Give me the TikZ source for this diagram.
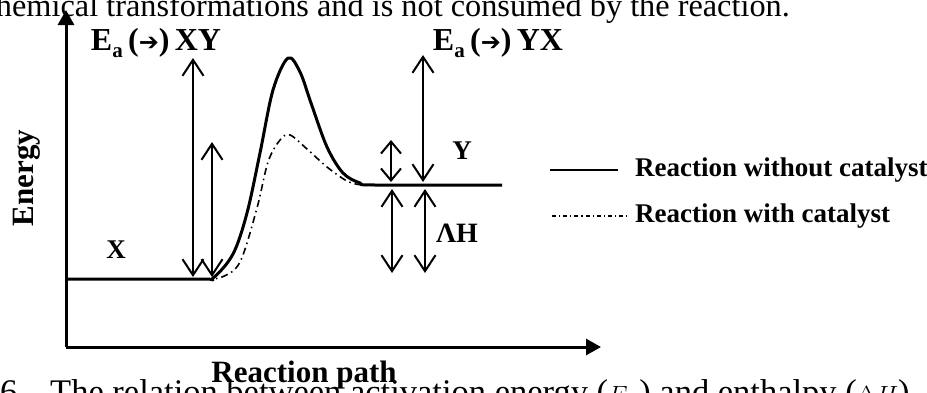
\documentclass[tikz,border=0pt]{standalone}
\usepackage{fontspec}
\setmainfont{Liberation Serif}
\newfontfamily\symfont{DejaVu Sans}
\usetikzlibrary{arrows.meta}
\tikzset{
  lbl/.style={font=\fontsize{27}{30}\selectfont\bfseries, inner sep=0pt},
  ealbl/.style={font=\fontsize{32}{34}\selectfont\bfseries, inner sep=0pt},
  biglbl/.style={font=\fontsize{31}{34}\selectfont\bfseries, inner sep=0pt},
  body/.style={font=\fontsize{32.3}{36}\selectfont, inner sep=0pt},
  axis/.style={line width=3pt, -{Triangle[length=15pt,width=16pt]}},
  dbl/.style={line width=2pt, {Straight Barb[length=16pt,width=21pt,line width=2pt]}-{Straight Barb[length=16pt,width=21pt,line width=2pt]}},
  sdbl/.style={line width=2pt, {Straight Barb[length=12pt,width=20pt,line width=2pt]}-{Straight Barb[length=12pt,width=20pt,line width=2pt]}},
  nocat/.style={line width=3pt, line join=round},
  cat/.style={line width=1.6pt, dash pattern=on 7pt off 4pt on 1.5pt off 4pt},
}
\newcommand{\Ealabel}[1]{E\raisebox{-0.22em}{\fontsize{21}{21}\selectfont a}\,({\symfont\fontsize{24}{24}\selectfont ➔})\,#1}
\begin{document}
\begin{tikzpicture}[x=1pt,y=-1pt]
\useasboundingbox (0,0) rectangle (927,392);
% page text fragments
\node[body, anchor=base east] (toptext) at (790,16) {chemical transformations and is not consumed by the reaction.};
\node[body, font=\fontsize{34.5}{36}\selectfont, anchor=base west] (num) at (0,403) {6.};
\node[body, font=\fontsize{34.5}{36}\selectfont, anchor=base west] (bottext) at (50,403) {The relation between activation energy ($E_a$) and enthalpy ($\Delta H$)};
% axes
\coordinate (O) at (66,347);
\coordinate (ytop) at (66,10);
\coordinate (xend) at (601,347);
\draw[axis] (O) -- (ytop);
\draw[axis] (O) -- (xend);
\node[biglbl, rotate=90] (energy) at (27,178) {Energy};
\node[biglbl, anchor=base] (rpath) at (304,382) {Reaction path};
% curves
\draw[cat] plot[smooth, tension=0.55] coordinates {(205,279) (222,277) (240,262) (257,208) (268,162) (280,140) (290,135) (307,149) (327,167) (347,181) (362,185) (380,185)};
\draw[nocat] plot[smooth, tension=0.55] coordinates {(66,279) (200,279) (213,278) (233,254) (247,213) (260,153) (273,90) (288,58) (300,72) (311,103) (327,147) (343,173) (360,183) (375,185) (502,185)};
% labels
\node[lbl] (X) at (116,250) {X};
\node[lbl] (Y) at (462,151) {Y};
\node[lbl, font=\fontsize{28}{30}\selectfont\bfseries] (dH) at (457,233) {ΛH};
\node[ealbl] (eaxy) at (156,43) {\Ealabel{XY}};
\node[ealbl] (eayx) at (498,43) {\Ealabel{YX}};
% double arrows
\coordinate (a1t) at (193,58);  \coordinate (a1b) at (193,277);
\coordinate (a2t) at (212,142); \coordinate (a2b) at (212,277);
\coordinate (a3t) at (391,140); \coordinate (a3b) at (391,182);
\coordinate (a4t) at (423,55);  \coordinate (a4b) at (423,182);
\coordinate (a5t) at (392,189); \coordinate (a5b) at (392,273);
\coordinate (a6t) at (425,189); \coordinate (a6b) at (425,273);
\draw[dbl] (a1t) -- (a1b);
\draw[dbl] (a2t) -- (a2b);
\draw[sdbl] (a3t) -- (a3b);
\draw[dbl] (a4t) -- (a4b);
\draw[dbl] (a5t) -- (a5b);
\draw[dbl] (a6t) -- (a6b);
% legend
\coordinate (l1a) at (550,170); \coordinate (l1b) at (618,170);
\coordinate (l2a) at (552,216); \coordinate (l2b) at (628,216);
\draw[line width=2pt] (l1a) -- (l1b);
\draw[cat, line width=1.3pt, dash pattern=on 4pt off 3pt on 1.2pt off 3pt] (l2a) -- (l2b);
\node[lbl, anchor=west] (leg1) at (635,170) {Reaction without catalyst};
\node[lbl, anchor=west] (leg2) at (635,216) {Reaction with catalyst};
\end{tikzpicture}
\end{document}
